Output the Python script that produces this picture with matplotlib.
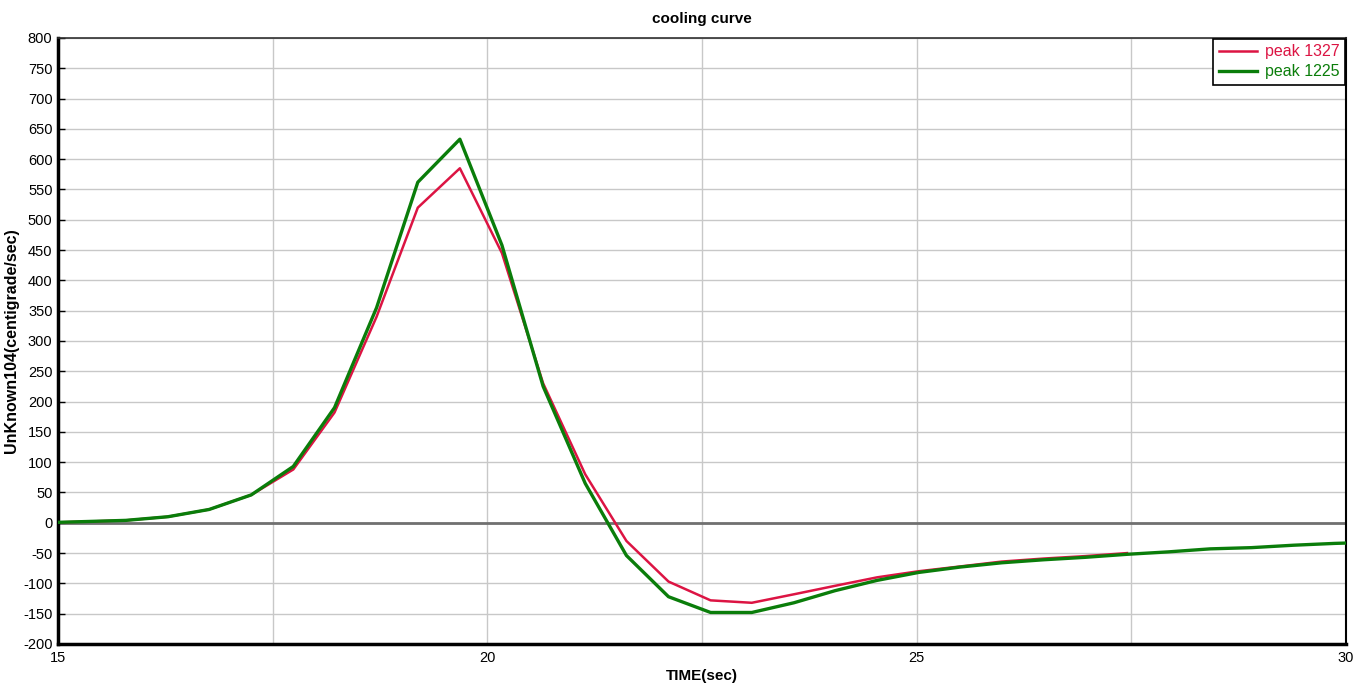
import matplotlib
matplotlib.use("Agg")
import matplotlib.pyplot as plt
from matplotlib.ticker import MultipleLocator

plt.rcParams['font.family'] = ['Liberation Sans', 'DejaVu Sans']
plt.rcParams['axes.unicode_minus'] = False

# sample times (s)
time_red = [14.82, 15.31, 15.79, 16.28, 16.76, 17.25, 17.74, 18.22, 18.71, 19.19,
            19.68, 20.17, 20.65, 21.14, 21.62, 22.11, 22.60, 23.08, 23.57, 24.05,
            24.54, 25.02, 25.51, 25.99, 26.48, 26.96, 27.45]
time_green = time_red + [27.93, 28.42, 28.90, 29.39, 29.87, 30.35]

# cooling rate (centigrade/sec)
rate_1327 = [0, 2, 4, 10, 22, 46, 88, 182, 340, 520,
             585, 445, 230, 80, -30, -97, -128, -132, -118, -104,
             -90, -80, -72, -64, -59, -55, -50]
rate_1225 = [0, 2, 4, 10, 22, 46, 93, 190, 355, 562,
             633, 458, 225, 65, -54, -122, -148, -148, -132, -112,
             -95, -82, -73, -66, -61, -57, -52, -48, -43, -41, -37, -34, -32]

series_labels = ["peak 1327", "peak 1225"]
series_colors = ["#dc1443", "#0a7d0a"]

fig = plt.figure(figsize=(13.56, 6.87), dpi=100)
ax = fig.add_axes([0.0428, 0.0626, 0.9498, 0.8821])

ax.set_xlim(15, 30)
ax.set_ylim(-200, 800)
ax.xaxis.set_major_locator(MultipleLocator(5))
ax.xaxis.set_minor_locator(MultipleLocator(2.5))
ax.yaxis.set_major_locator(MultipleLocator(50))

ax.grid(True, which='both', axis='x', color='#c8c8c8', linewidth=1)
ax.grid(True, which='major', axis='y', color='#c8c8c8', linewidth=1)
ax.set_axisbelow(True)
ax.axhline(0, color='#707070', linewidth=2, zorder=1.5)

l1, = ax.plot(time_red, rate_1327, color=series_colors[0], linewidth=1.8,
              label=series_labels[0], zorder=3)
l2, = ax.plot(time_green, rate_1225, color=series_colors[1], linewidth=2.4,
              label=series_labels[1], zorder=4)

for side in ('left', 'bottom'):
    ax.spines[side].set_linewidth(2.5)
    ax.spines[side].set_color('black')
ax.spines['right'].set_linewidth(1.5)
ax.spines['right'].set_color('black')
ax.spines['top'].set_linewidth(1.2)
ax.spines['top'].set_color('#303030')

ax.tick_params(axis='y', which='major', direction='in', length=5, width=1,
               labelsize=10.5, pad=4)
ax.tick_params(axis='x', which='both', length=0, labelsize=10.5, pad=5)

ax.set_title("cooling curve", fontsize=11, fontweight='bold', pad=11)
ax.set_xlabel("TIME(sec)", fontsize=11, fontweight='bold', labelpad=3)
ax.set_ylabel("UnKnown104(centigrade/sec)", fontsize=11.5, fontweight='bold',
              labelpad=3)

leg = ax.legend(loc='upper right', fontsize=11.5, frameon=True, fancybox=False,
                edgecolor='black', framealpha=1, borderaxespad=0.05,
                handlelength=2.4, handletextpad=0.5, borderpad=0.35,
                labelspacing=0.3)
leg.get_frame().set_linewidth(1.2)
for txt, c in zip(leg.get_texts(), series_colors):
    txt.set_color(c)

fig.savefig("out.png", dpi=100)
